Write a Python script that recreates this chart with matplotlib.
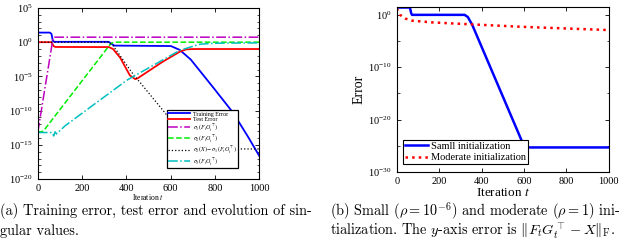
import matplotlib
matplotlib.use('Agg')
import matplotlib.pyplot as plt
import numpy as np
from matplotlib.ticker import NullFormatter

plt.rcParams['font.family'] = ['Liberation Serif', 'DejaVu Serif']
plt.rcParams['mathtext.fontset'] = 'stix'

# ---- left panel data (iteration, log10 value) ----
train_t = [0, 55, 62, 68, 75, 320, 332, 345, 600, 640, 690, 760, 880, 940, 1000]
train_v = [1.4, 1.4, 1.2, 0.2, 0.05, 0.05, -0.2, -0.5, -0.55, -1.1, -2.5, -5.3, -10.2, -13.3, -16.6]

test_t = [0, 62, 72, 80, 320, 340, 371, 416, 440, 450, 552, 640, 670, 700, 1000]
test_v = [0, 0, -0.6, -0.7, -0.7, -1.0, -2.2, -4.85, -5.4, -5.3, -3.1, -1.4, -1.05, -1.0, -1.0]

sig1_t = [0, 69, 75, 1000]
sig1_v = [-13.2, 0.6, 0.73, 0.73]

sig2_t = [0, 25, 330, 345, 1000]
sig2_v = [-13.2, -13.0, -0.2, 0.0, 0.0]

gap_t = [0, 320, 340, 424, 567, 700, 720, 1000]
gap_v = [0, 0, -0.5, -4.4, -10.0, -15.6, -15.6, -15.6]

sig3_t = [0, 65, 72, 78, 85, 120, 400, 640, 730, 800, 1000]
sig3_v = [-13.2, -13.2, -13.7, -13.1, -13.4, -12.3, -5.6, -1.2, -0.3, -0.15, -0.1]

# ---- right panel data ----
small_t = [0, 62, 68, 72, 320, 335, 355, 600, 615, 1000]
small_v = [1.4, 1.4, 0.3, 0.0, 0.0, -0.4, -1.8, -25.0, -25.3, -25.3]

mod_t = [0, 5, 15, 40, 70, 150, 240, 400, 600, 800, 1000]
mod_v = [1.2, 0.8, 0.0, -0.7, -1.1, -1.4, -1.6, -1.9, -2.3, -2.6, -2.9]


def curve(t, v):
    x = np.arange(0, 1001)
    return x, 10 ** np.interp(x, t, v)


def style_axes(ax, fs):
    ax.tick_params(which='both', direction='in', top=True, right=True, labelsize=fs)
    ax.tick_params(which='major', length=3, width=0.6)
    ax.tick_params(which='minor', length=1.8, width=0.5)
    ax.yaxis.set_minor_formatter(NullFormatter())
    for s in ax.spines.values():
        s.set_linewidth(0.8)


fig = plt.figure(figsize=(6.4, 2.41), dpi=100)

# left panel
ax1 = fig.add_axes([0.059, 0.257, 0.346, 0.71])
ax1.semilogy(*curve(train_t, train_v), color='b', lw=1.3, label='Training Error')
ax1.semilogy(*curve(test_t, test_v), color='r', lw=1.3, label='Test Error')
ax1.semilogy(*curve(sig1_t, sig1_v), color='m', lw=1.1, ls='-.', label=r'$\sigma_1(F_tG_t^\top)$')
ax1.semilogy(*curve(sig2_t, sig2_v), color='#00ee00', lw=1.1, ls='--', label=r'$\sigma_2(F_tG_t^\top)$')
ax1.semilogy(*curve(gap_t, gap_v), color='k', lw=0.9, ls=':', label=r'$\sigma_2(X)-\sigma_1(F_tG_t^\top)$')
ax1.semilogy(*curve(sig3_t, sig3_v), color='c', lw=1.1, ls='-.', label=r'$\sigma_3(F_tG_t^\top)$')
ax1.set_xlim(0, 1000)
ax1.set_ylim(1e-20, 1e5)
ax1.set_xticks([0, 200, 400, 600, 800, 1000])
ax1.set_yticks([10.0 ** k for k in range(-20, 6, 5)])
ax1.set_yticks([10.0 ** k for k in range(-20, 6)], minor=True)
style_axes(ax1, 7.5)
ax1.set_xlabel(r'Iteration $t$', fontsize=5.5, labelpad=-0.5)
leg1 = ax1.legend(loc='upper left', bbox_to_anchor=(0.57, 0.42), fontsize=4.3,
                  handlelength=3.6, fancybox=False, framealpha=1, edgecolor='k',
                  borderpad=0.2, labelspacing=0.05, handletextpad=0.5)
leg1.get_frame().set_linewidth(0.9)

# right panel
ax2 = fig.add_axes([0.620, 0.286, 0.331, 0.685])
ax2.semilogy(*curve(small_t, small_v), color='b', lw=1.8, label='Samll initialization')
ax2.semilogy(*curve(mod_t, mod_v), color='r', lw=1.8, ls=':', label='Moderate initialization')
ax2.set_xlim(0, 1000)
ax2.set_ylim(1e-30, 10 ** 1.5)
ax2.set_xticks([0, 200, 400, 600, 800, 1000])
ax2.set_yticks([1e-30, 1e-20, 1e-10, 1e0])
ax2.set_yticks([1e-25, 1e-15, 1e-5], minor=True)
style_axes(ax2, 7.5)
ax2.set_xlabel(r'Iteration $t$', fontsize=9.5, labelpad=1)
ax2.set_ylabel('Error', fontsize=10, labelpad=2)
leg2 = ax2.legend(loc='lower left', bbox_to_anchor=(0.005, 0.015), fontsize=7.5,
                  handlelength=2.2, fancybox=False, framealpha=1, edgecolor='k',
                  borderpad=0.2, labelspacing=0.2, handletextpad=0.3)
leg2.get_frame().set_linewidth(0.8)

# captions
cap = dict(fontsize=10.3, family='cmr10', math_fontfamily='cm', va='center')
fig.text(0.0, 1 - 211 / 241, '(a) Training error, test error and evolution of sin-', **cap)
fig.text(0.0, 1 - 231 / 241, 'gular values.', **cap)
fig.text(0.515, 1 - 211 / 241, r'(b) Small ($\rho = 10^{-6}$) and moderate ($\rho = 1$) ini-', **cap)
fig.text(0.515, 1 - 231 / 241, r'tialization. The $y$-axis error is $\|F_tG_t^\top - X\|_\mathrm{F}$.', **cap)

fig.savefig('out.png', dpi=100)
